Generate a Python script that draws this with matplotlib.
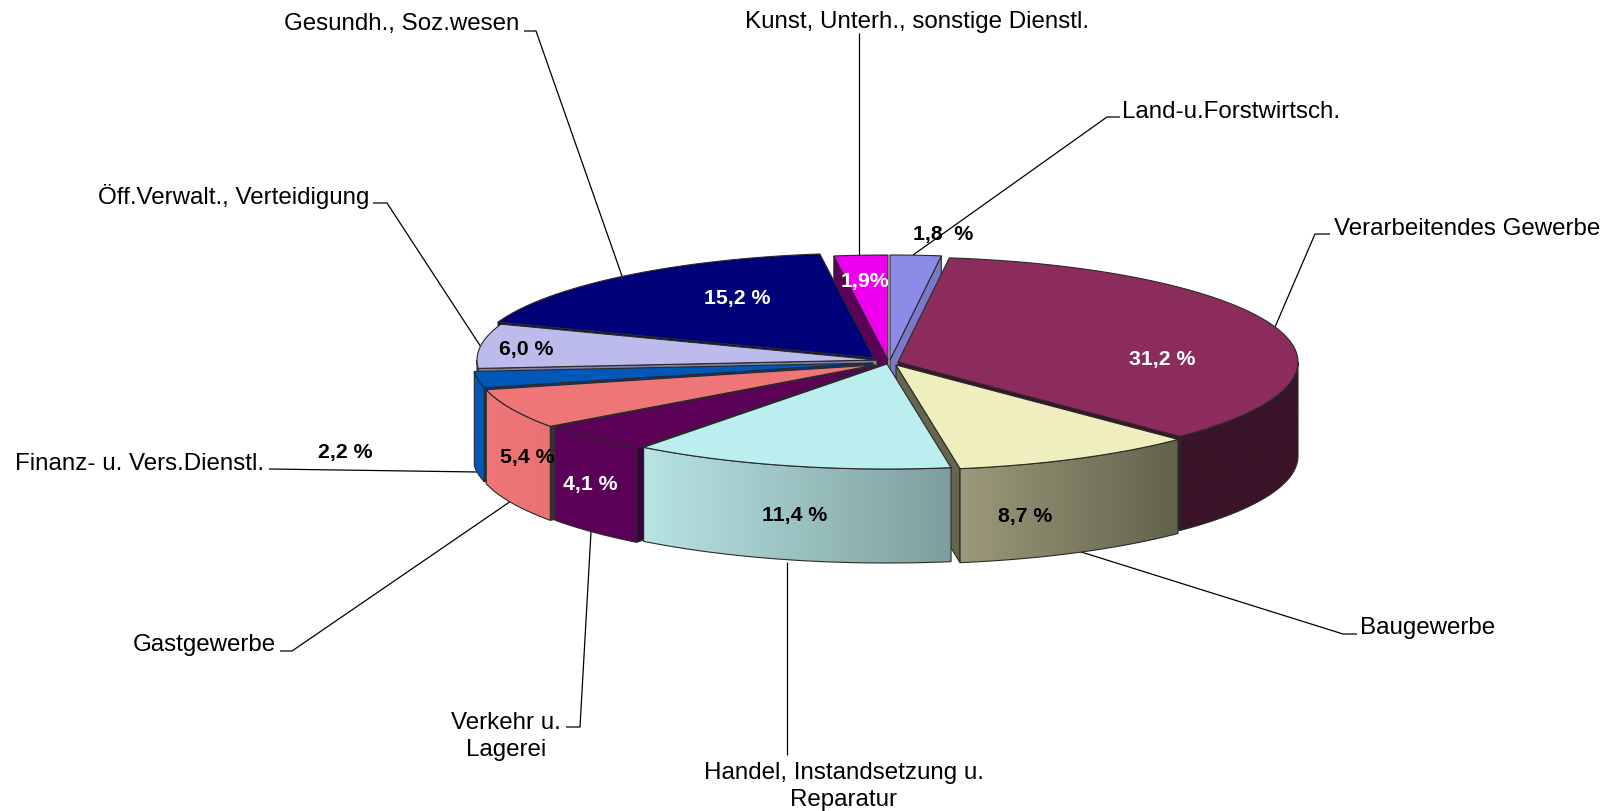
import numpy as np
import matplotlib
matplotlib.use("Agg")
import matplotlib.pyplot as plt
from matplotlib.colors import to_rgb
from matplotlib.patches import Polygon

# ---- data ----
categories = ["Land-u.Forstwirtsch.", "Verarbeitendes Gewerbe", "Baugewerbe",
              "Handel, Instandsetzung u.\nReparatur", "Verkehr u.\nLagerei", "Gastgewerbe",
              "Finanz- u. Vers.Dienstl.", "Öff.Verwalt., Verteidigung",
              "Gesundh., Soz.wesen", "Kunst, Unterh., sonstige Dienstl."]
values = [1.8, 31.2, 8.7, 11.4, 4.1, 5.4, 2.2, 6.0, 15.2, 1.9]
value_labels = ["1,8  %", "31,2 %", "8,7 %", "11,4 %", "4,1 %", "5,4 %", "2,2 %", "6,0 %", "15,2 %", "1,9%"]

# ---- style / layout ----
plt.rcParams['font.family'] = ['Liberation Sans', 'DejaVu Sans']
W, H = 1607, 811
CX, CY, RX, RY, DEPTH = 885, 360, 400, 105, 94
shift = [(5, 0), (13, 2), (11, 5), (2, 4), (-5, 5), (-10, 5), (-12, 3), (-8, 0), (-11, -2), (3, 0)]
top_col = ["#8c8ce8", "#8c2c5c", "#eeeebe", "#bbeeee", "#5c0058", "#ee7676", "#0058b8", "#bcbcec", "#000078", "#ee00ee"]
face_col = ["#7a7ac8", "#3a1428", "#66664e", "#7a9a9a", "#38003a", "#3a3030", "#003a80", "#8080a8", "#000050", "#5c0058"]
rim_l = ["#7a7ac8", "#3a1428", "#9c9a7a", "#b8e4e4", "#5c0058", "#ee7676", "#0058b8", "#9090b8", "#000050", "#5c0058"]
rim_r = ["#7a7ac8", "#3a1428", "#62624c", "#7e9e9e", "#5c0058", "#ea7272", "#0058b8", "#9090b8", "#000050", "#5c0058"]
txt_col = ["black", "white", "black", "black", "white", "black", "black", "black", "white", "white"]
txt_pos = [(943, 240), (1162, 365), (1025, 522), (795, 521), (590, 490), (527, 463), (345, 458), (526, 355), (737, 304), (865, 287)]
cat_pos = [(1122, 118, 'left'), (1334, 235, 'left'), (1360, 634, 'left'), (844, 806, 'center'),
           (506, 756, 'center'), (276, 651, 'right'), (264, 470, 'right'), (369, 204, 'right'),
           (519, 30, 'right'), (917, 28, 'center')]
leaders = [[(1120, 117), (1107, 117), (913, 255)],
           [(1330, 234), (1315, 234), (1275, 327)],
           [(1357, 634), (1343, 634), (1078, 551)],
           [(787, 755), (787, 562)],
           [(566, 727), (580, 727), (591, 532)],
           [(280, 651), (292, 651), (511, 501)],
           [(269, 469), (478, 472)],
           [(373, 203), (387, 203), (481, 347)],
           [(524, 31), (536, 31), (622, 276)],
           [(859, 33), (859, 255)]]
draw_order = [9, 8, 7, 6, 5, 4, 0, 1, 2, 3]
EDGE = "#2a2a2a"

fig = plt.figure(figsize=(W / 100, H / 100), dpi=100, facecolor="white")
ax = fig.add_axes([0, 0, 1, 1])

vals = np.array(values, dtype=float)
edges = np.concatenate([[0], np.cumsum(vals) / vals.sum() * 360])


def rim_pt(th, ox, oy):
    r = np.radians(th)
    return np.column_stack([CX + ox + RX * np.sin(r), CY + oy - RY * np.cos(r)])


for z, i in enumerate(draw_order):
    a0, a1 = edges[i], edges[i + 1]
    ox, oy = shift[i]
    apex = np.array([[CX + ox, CY + oy]])
    down = np.array([0, DEPTH])
    lw = 0.8
    zz = 2 + z
    # cut faces
    if np.sin(np.radians(a0)) < 0:
        p = rim_pt(np.array([a0]), ox, oy)
        ax.fill(*np.vstack([apex, p, p + down, apex + down]).T, fc=face_col[i], ec=EDGE, lw=lw, zorder=zz)
    if np.sin(np.radians(a1)) > 1e-6:
        p = rim_pt(np.array([a1]), ox, oy)
        ax.fill(*np.vstack([apex, p, p + down, apex + down]).T, fc=face_col[i], ec=EDGE, lw=lw, zorder=zz)
    # outer rim with horizontal gradient
    b0, b1 = max(a0, 90), min(a1, 270)
    if b1 > b0:
        ts = np.linspace(b0, b1, 80)
        pts = rim_pt(ts, ox, oy)
        xmin, xmax = pts[:, 0].min(), pts[:, 0].max()
        cl, cr = np.array(to_rgb(rim_l[i])), np.array(to_rgb(rim_r[i]))
        grad = np.linspace(0, 1, 256)[None, :, None]
        img = cl + (cr - cl) * grad
        im = ax.imshow(img, extent=(xmin, xmax, pts[:, 1].max() + DEPTH, pts[:, 1].min()),
                       aspect="auto", zorder=zz, interpolation="bilinear")
        outline = Polygon(np.vstack([pts, (pts + down)[::-1]]), closed=True, fc="none", ec=EDGE, lw=lw, zorder=zz)
        ax.add_patch(outline)
        im.set_clip_path(outline)
    # top face
    ts = np.linspace(a0, a1, 120)
    ax.fill(*np.vstack([apex, rim_pt(ts, ox, oy)]).T, fc=top_col[i], ec=EDGE, lw=lw, zorder=zz)

for i, pts in enumerate(leaders):
    xs, ys = zip(*pts)
    ax.plot(xs, ys, color="black", lw=0.9, zorder=1, solid_capstyle="butt")

for i, name in enumerate(categories):
    x, y, ha = cat_pos[i]
    ax.text(x, y, name, ha=ha, va="baseline", fontsize=17.35, color="black", zorder=30, linespacing=1.3,
            multialignment="center")

for i, lab in enumerate(value_labels):
    x, y = txt_pos[i]
    ax.text(x, y, lab, ha="center", va="baseline", fontsize=15.3, fontweight="bold", color=txt_col[i], zorder=31)

ax.set_xlim(0, W)
ax.set_ylim(H, 0)
ax.set_aspect("auto")
ax.axis("off")
fig.savefig("out.png", dpi=100, facecolor="white")
